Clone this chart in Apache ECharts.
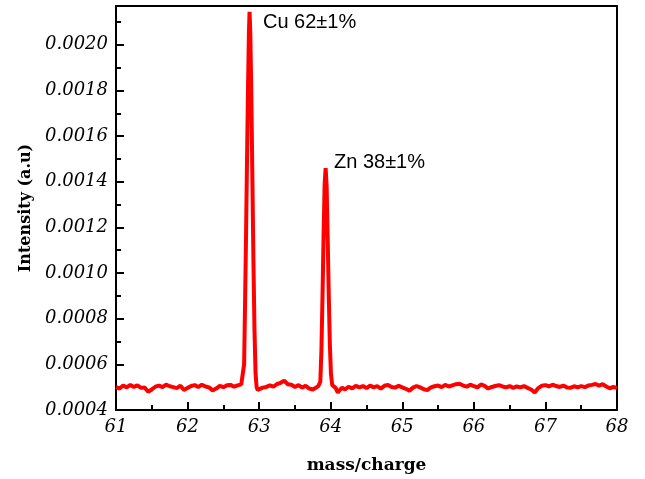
<!DOCTYPE html>
<html>
<head>
<meta charset="utf-8">
<script src="https://cdn.jsdelivr.net/npm/echarts@6/dist/echarts.min.js"></script>
<style>
  html, body { margin: 0; padding: 0; background: #fff; }
  #chart { width: 645px; height: 479px; }
</style>
</head>
<body>
<div id="chart"></div>
<script>
// mass/charge positions and measured intensity (a.u)
const mass = [
  61.00, 61.05, 61.10, 61.15, 61.20, 61.25, 61.30, 61.35, 61.40, 61.45,
  61.50, 61.55, 61.60, 61.65, 61.70, 61.75, 61.80, 61.85, 61.90, 61.95,
  62.00, 62.05, 62.10, 62.15, 62.20, 62.25, 62.30, 62.35, 62.40, 62.45,
  62.50, 62.55, 62.60, 62.65, 62.70, 62.75,
  62.775, 62.79, 62.80, 62.815, 62.83, 62.845, 62.857, 62.866, 62.876, 62.89,
  62.905, 62.92, 62.935, 62.95, 62.965, 62.98,
  63.00, 63.05, 63.10, 63.15, 63.20, 63.25, 63.30, 63.35, 63.40, 63.45,
  63.50, 63.55, 63.60, 63.65, 63.70, 63.75, 63.80, 63.83,
  63.855, 63.87, 63.885, 63.90, 63.915, 63.929, 63.943, 63.958, 63.973, 63.988,
  64.003, 64.02,
  64.04, 64.07, 64.10, 64.13, 64.16, 64.20, 64.25, 64.30, 64.35, 64.40,
  64.45, 64.50, 64.55, 64.60, 64.65, 64.70, 64.75, 64.80, 64.85, 64.90,
  64.95, 65.00, 65.05, 65.10, 65.15, 65.20, 65.25, 65.30, 65.35, 65.40,
  65.45, 65.50, 65.55, 65.60, 65.65, 65.70, 65.75, 65.80, 65.85, 65.90,
  65.95, 66.00, 66.05, 66.10, 66.15, 66.20, 66.25, 66.30, 66.35, 66.40,
  66.45, 66.50, 66.55, 66.60, 66.65, 66.70, 66.75, 66.80, 66.85, 66.90,
  66.95, 67.00, 67.05, 67.10, 67.15, 67.20, 67.25, 67.30, 67.35, 67.40,
  67.45, 67.50, 67.55, 67.60, 67.65, 67.70, 67.75, 67.80, 67.85, 67.90,
  67.95, 68.00
]
const intensity = [
  0.000500, 0.000494, 0.000507, 0.000499, 0.000510, 0.000501, 0.000508, 0.000497, 0.000499, 0.000480,
  0.000490, 0.000502, 0.000507, 0.000500, 0.000511, 0.000504, 0.000500, 0.000496, 0.000506, 0.000488,
  0.000497, 0.000505, 0.000509, 0.000501, 0.000511, 0.000503, 0.000499, 0.000486, 0.000494, 0.000506,
  0.000500, 0.000508, 0.000510, 0.000502, 0.000508, 0.000512,
  0.000515, 0.000600, 0.000800, 0.001120, 0.001480, 0.001820, 0.002050, 0.002145, 0.002060, 0.001800,
  0.001430, 0.001060, 0.000750, 0.000560, 0.000500, 0.000488,
  0.000492, 0.000498, 0.000501, 0.000508, 0.000502, 0.000514, 0.000519, 0.000528, 0.000513, 0.000511,
  0.000501, 0.000509, 0.000498, 0.000506, 0.000494, 0.000490, 0.000499, 0.000506,
  0.000525, 0.000660, 0.000890, 0.001160, 0.001390, 0.001460, 0.001380, 0.001150, 0.000900, 0.000690,
  0.000560, 0.000510,
  0.000503, 0.000496, 0.000476, 0.000489, 0.000497, 0.000490, 0.000502, 0.000495, 0.000506, 0.000499,
  0.000505, 0.000496, 0.000507, 0.000499, 0.000505, 0.000494, 0.000506, 0.000510, 0.000501, 0.000498,
  0.000506, 0.000499, 0.000493, 0.000485, 0.000498, 0.000505, 0.000499, 0.000491, 0.000487, 0.000499,
  0.000504, 0.000507, 0.000500, 0.000510, 0.000503, 0.000508, 0.000513, 0.000515, 0.000507, 0.000502,
  0.000511, 0.000505, 0.000499, 0.000512, 0.000506, 0.000494, 0.000501, 0.000505, 0.000509, 0.000503,
  0.000499, 0.000505, 0.000497, 0.000503, 0.000499, 0.000505, 0.000497, 0.000490, 0.000477, 0.000496,
  0.000506, 0.000509, 0.000503, 0.000511, 0.000505, 0.000501, 0.000507, 0.000499, 0.000497, 0.000504,
  0.000499, 0.000505, 0.000500, 0.000507, 0.000510, 0.000514, 0.000507, 0.000513, 0.000503, 0.000495,
  0.000501, 0.000497
]
const peakLabels = ['Cu 62\u00b11%', 'Zn 38\u00b11%']

const chart = echarts.init(document.getElementById('chart'))
const serif = 'DejaVu Serif'

chart.setOption({
  animation: false,
  grid: {
    left: 116,
    right: 28,
    top: 6,
    bottom: 69,
    show: true,
    borderColor: '#000',
    borderWidth: 2
  },
  xAxis: {
    type: 'value',
    min: 61,
    max: 68,
    interval: 1,
    name: 'mass/charge',
    nameLocation: 'middle',
    nameGap: 47,
    nameTextStyle: { fontFamily: serif, fontWeight: 'bold', fontSize: 17, color: '#000' },
    axisLine: { lineStyle: { color: '#000', width: 2 } },
    axisTick: { inside: true, length: 8, lineStyle: { width: 2 } },
    minorTick: { show: true, splitNumber: 2, length: 5, lineStyle: { color: '#000', width: 2 } },
    splitLine: { show: false },
    axisLabel: {
      margin: 8,
      fontFamily: serif,
      fontStyle: 'italic',
      fontSize: 18,
      color: '#000'
    }
  },
  yAxis: {
    type: 'value',
    min: 0.0004,
    max: 0.00217,
    interval: 0.0002,
    name: 'Intensity (a.u)',
    nameLocation: 'middle',
    nameGap: 80,
    nameTextStyle: { fontFamily: serif, fontWeight: 'bold', fontSize: 16, color: '#000' },
    axisLine: { show: true, lineStyle: { color: '#000', width: 2 } },
    axisTick: { show: true, inside: true, length: 8, lineStyle: { width: 2 } },
    minorTick: { show: true, splitNumber: 2, length: 5, lineStyle: { color: '#000', width: 2 } },
    splitLine: { show: false },
    axisLabel: {
      margin: 8,
      showMaxLabel: false,
      fontFamily: serif,
      fontStyle: 'italic',
      fontSize: 18,
      color: '#000',
      formatter: v => v.toFixed(4)
    }
  },
  series: [{
    type: 'line',
    data: mass.map((m, i) => [m, intensity[i]]),
    showSymbol: false,
    lineStyle: { color: '#ff0000', width: 4 },
    z: 1
  }],
  graphic: [
    {
      type: 'text', left: 263, top: 12,
      style: { text: peakLabels[0], font: '20px "Liberation Sans", Arial, sans-serif', fill: '#000' }
    },
    {
      type: 'text', left: 334, top: 152,
      style: { text: peakLabels[1], font: '20px "Liberation Sans", Arial, sans-serif', fill: '#000' }
    }
  ]
})
</script>
</body>
</html>
